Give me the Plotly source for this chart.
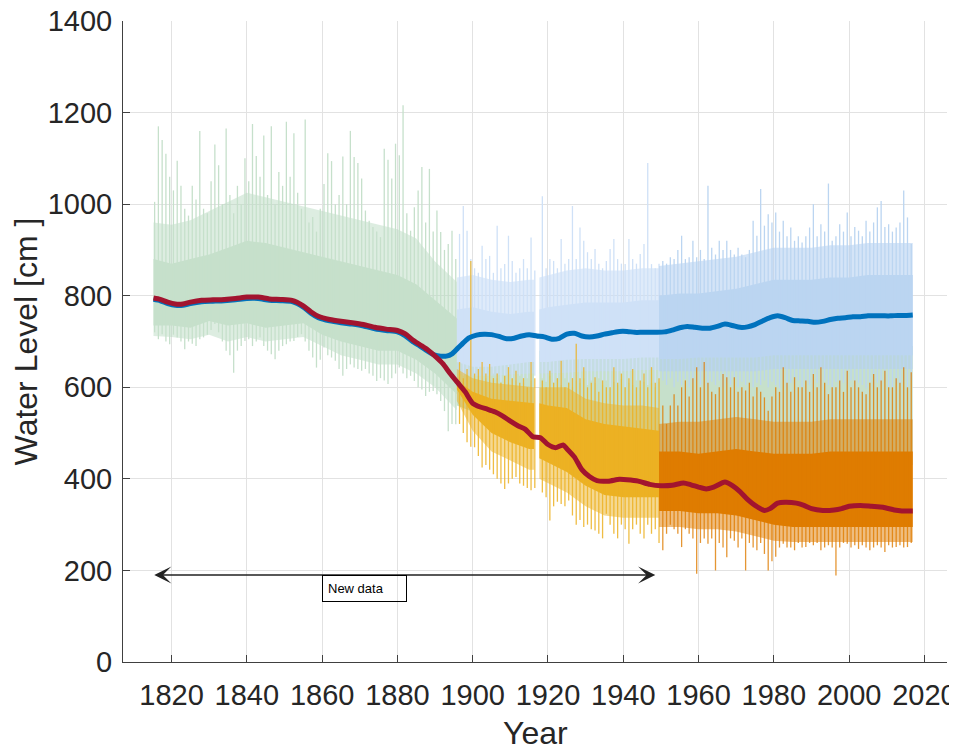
import plotly.graph_objects as go

# ---------------- data ----------------
# Green series (1815-1895): yearly peak / trough
G_YEARS = list(range(1815, 1896))
G_MAX = [1005, 1170, 1140, 1110, 1060, 1030, 1095, 1040, 990, 975,
         1040, 1010, 1160, 990, 980, 1050, 1130, 1085, 1000, 1165,
         1020, 980, 1040, 1000, 1100, 1050, 1175, 1105, 1060, 1150,
         1020, 1170, 1000, 1070, 1040, 1180, 1060, 1155, 1025, 990,
         1185, 960, 972, 940, 990, 1044, 1111, 1094, 1000, 1020,
         1104, 1000, 1160, 1103, 1090, 1056, 986, 964, 950, 940,
         928, 1121, 1097, 1056, 1132, 1107, 1216, 980, 942, 993,
         1030, 1081, 960, 1077, 940, 986, 939, 900, 913, 942, 880]
G_MIN = [720, 705, 716, 700, 694, 715, 709, 700, 683, 700,
         695, 690, 705, 709, 715, 725, 738, 720, 700, 680,
         670, 632, 680, 690, 701, 705, 690, 700, 709, 690,
         680, 672, 661, 680, 690, 694, 700, 701, 710, 716,
         700, 680, 665, 643, 660, 687, 670, 665, 658, 640,
         625, 640, 650, 643, 640, 636, 640, 630, 625, 614,
         620, 615, 607, 620, 630, 643, 630, 620, 625, 614,
         600, 595, 581, 590, 592, 585, 570, 548, 504, 520, 519]
# Green dense core and looser outer envelope
G_CORE_YR = [1815.2, 1820, 1825, 1830, 1835, 1840, 1845, 1850, 1855, 1860,
             1865, 1870, 1875, 1880, 1885, 1890, 1895.8]
G_CORE_LO = [735, 735, 730, 745, 735, 740, 730, 735, 740, 715,
             700, 690, 680, 680, 660, 630, 585]
G_CORE_HI = [880, 870, 880, 890, 905, 920, 915, 905, 895, 885,
             875, 865, 855, 845, 825, 790, 750]
G_OUT_LO = [712, 710, 705, 715, 700, 710, 700, 705, 710, 690,
            670, 660, 650, 650, 630, 600, 550]
G_OUT_HI = [960, 955, 965, 985, 1005, 1025, 1015, 1005, 995, 985,
            975, 965, 955, 945, 925, 875, 830]
G2A_YR = [1895.8, 1905, 1916.3]
G2A_LO = [560, 530, 510]
G2A_HI = [700, 690, 680]
G2B_YR = [1917.7, 1925, 1935, 1945, 1955, 1965, 1975, 1985, 1995, 2005, 2016.9]
G2B_LO = [500, 480, 460, 450, 440, 435, 430, 430, 430, 430, 430]
G2B_HI = [680, 680, 680, 680, 680, 685, 690, 690, 690, 690, 690]

# Blue series (1896-2016)
B_YEARS = list(range(1896, 2017))
B_MAX = [935, 996, 942, 880, 860, 850, 909, 880, 887, 850,
         953, 860, 869, 931, 876, 850, 860, 880, 860, 927,
         855, None, 1017, 860, 880, 876, 860, 924, 870, 880,
         996, 880, 949, 920, 895, 880, 902, 870, 860, 876,
         902, 924, 880, 870, 869, 924, 880, 870, 891, 913,
         1090, 869, 860, 870,
         876, 870, 884, 880, 900, 931, 880, 884, 920, 884,
         900, 880, 1040, 905, 890, 920, 900, 920, 900, 890,
         905, 890, 884, 900, 964, 931, 1033, 953,
         978, 960, 982, 940, 964, 930, 949, 920, 930, 916,
         930, 949, 1000, 930, 956, 940, 1045, 920, 930, 956,
         940, 982, 930, 950, 942, 930, 964, 940, 960, 993,
         1007, 950, 956, 940, 949, 960, 1030, 971, 913]
B_MIN = [640, 625, 630, 615, 620, 625, 610, 620, 615, 630,
         620, 612, 625, 610, 620, 615, 625, 610, 620, 615,
         625, None, 620, 612, 625, 610, 618, 605, 620, 612,
         600, 615, 610, 620, 605, 615, 610, 620, 605, 615,
         600, 612, 605, 618, 600, 610, 605, 615, 600, 612,
         605, 610, 600, 612,
         615, 605, 620, 600, 612, 605, 618, 600, 610, 615,
         605, 620, 600, 612, 605, 615, 600, 610, 605, 618,
         600, 612, 605, 615, 600, 610, 605, 615,
         600, 612, 605, 598, 615, 600, 610, 605, 615, 600,
         612, 605, 598, 610, 600, 615, 605, 600, 612, 598,
         610, 605, 615, 600, 610, 605, 598, 612, 600, 610,
         605, 615, 600, 598, 610, 605, 612, 600, 615]
B_CORE1_YR = [1895.8, 1900, 1905, 1910, 1915, 1916.3]
B_CORE1_LO = [655, 645, 645, 650, 655, 655]
B_CORE1_HI = [770, 775, 765, 760, 765, 765]
B_OUT1_LO = [630, 625, 625, 628, 630, 630]
B_OUT1_HI = [840, 845, 835, 830, 835, 835]
B_CORE2_YR = [1917.7, 1920, 1925, 1930, 1935, 1940, 1945, 1949.5]
B_CORE2_LO = [655, 655, 660, 662, 662, 662, 665, 665]
B_CORE2_HI = [770, 775, 780, 785, 785, 785, 790, 790]
B_OUT2_LO = [630, 630, 632, 635, 635, 635, 638, 638]
B_OUT2_HI = [840, 845, 855, 860, 855, 855, 860, 860]
B_CORE3_YR = [1949.5, 1955, 1960, 1965, 1970, 1975, 1980, 1985, 1990,
              1995, 2000, 2005, 2010, 2016.9]
B_CORE3_LO = [662, 662, 665, 665, 665, 665, 670, 670, 670, 670, 670, 670, 670, 670]
B_CORE3_HI = [800, 805, 805, 810, 815, 825, 835, 835, 835, 840, 840, 845, 845, 845]
B_OUT3_LO = [635, 635, 635, 635, 635, 635, 640, 640, 640, 640, 640, 640, 640, 640]
B_OUT3_HI = [865, 870, 875, 880, 885, 895, 905, 905, 905, 910, 910, 915, 915, 915]

# Orange series (1896-2016)
O_YEARS = list(range(1896, 2017))
O_MAX = [655, 620, 640, 876, 630, 640, 655, 630, 651, 620,
         630, 610, 625, 644, 620, 636, 610, 620, 600, 655,
         620, None, 615, 600, 636, 610, 620, 658, 600, 610,
         620, 695, 620, 644, 600, 610, 622, 590, 615, 600,
         600, 644, 610, 630, 600, 620, 640, 600, 615, 630,
         600, 644, 610, 620,
         560, 520, 560, 585, 560, 600, 615, 580, 620, 644,
         600, 655, 610, 590, 585, 600, 629, 622, 600, 622,
         590, 600, 593, 610, 580, 600, 590, 578,
         549, 580, 600, 590, 644, 610, 590, 622, 600, 600,
         615, 590, 629, 600, 644, 610, 585, 600, 600, 615,
         590, 636, 600, 615, 600, 590, 585, 610, 629, 600,
         615, 636, 600, 600, 620, 610, 644, 600, 633]
O_MIN = [520, 500, 480, 470, 469, 450, 425, 430, 420, 410,
         400, 390, 378, 390, 400, 404, 390, 385, 380, 375,
         380, None, 370, 360, 309, 340, 350, 345, 340, 353,
         320, 300, 310, 295, 300, 290, 287, 280, 270, 324,
         300, 280, 270, 300, 290, 258, 290, 300, 280, 270,
         300, 280, 290, 260,
         244, 280, 300, 290, 280, 251, 290, 280, 270, 193,
         260, 270, 258, 270, 200, 260, 250, 229, 270, 265,
         250, 270, 200, 260, 250, 244, 260, 236,
         200, 220, 230, 250, 258, 250, 250, 244, 260, 250,
         251, 260, 255, 260, 244, 250, 255, 250, 189, 250,
         260, 258, 250, 255, 247, 255, 250, 244, 250, 255,
         250, 240, 255, 250, 251, 255, 250, 251, 260]
O_CORE1_YR = [1895.8, 1900, 1905, 1910, 1915, 1916.3]
O_CORE1_LO = [595, 540, 500, 480, 465, 465]
O_CORE1_HI = [615, 590, 575, 570, 565, 565]
O_OUT1_LO = [570, 505, 460, 440, 420, 420]
O_OUT1_HI = [640, 620, 610, 605, 600, 600]
O_CORE2_YR = [1917.7, 1920, 1925, 1930, 1935, 1940, 1945, 1949.5]
O_CORE2_LO = [445, 435, 415, 385, 365, 360, 360, 360]
O_CORE2_HI = [565, 560, 555, 530, 520, 515, 510, 505]
O_OUT2_LO = [400, 390, 370, 340, 320, 315, 315, 315]
O_OUT2_HI = [600, 600, 600, 575, 565, 560, 560, 555]
O_CORE3_YR = [1949.5, 1955, 1960, 1965, 1970, 1975, 1980, 1985, 1990,
              1995, 2000, 2005, 2010, 2016.9]
O_CORE3_LO = [330, 330, 325, 325, 320, 310, 300, 295, 295, 295, 295, 295, 295, 295]
O_CORE3_HI = [460, 460, 455, 460, 465, 460, 455, 455, 455, 460, 460, 460, 460, 460]
O_OUT3_LO = [295, 295, 290, 290, 285, 275, 265, 262, 262, 262, 262, 262, 262, 262]
O_OUT3_HI = [520, 525, 525, 530, 535, 530, 525, 525, 525, 530, 530, 530, 530, 530]

# Smoothed trends
R_YR = [1815.2, 1817, 1819, 1821, 1823, 1825, 1828, 1831, 1834, 1837, 1840, 1843,
        1846, 1849, 1852, 1855, 1857, 1859, 1862, 1865, 1868, 1871, 1874, 1877,
        1880, 1882, 1884, 1886, 1888, 1890, 1892, 1894, 1896, 1898, 1900, 1902,
        1904, 1906, 1908, 1910, 1912, 1914, 1916, 1918, 1920, 1922, 1924, 1925,
        1927, 1929, 1931, 1933, 1936, 1939, 1941, 1944, 1947, 1950, 1953, 1956,
        1958, 1960, 1962, 1964, 1967, 1969, 1971, 1973, 1975, 1977.5, 1979, 1981,
        1983, 1986, 1988, 1990, 1993, 1996, 1998, 2000, 2003, 2006, 2009, 2012,
        2014, 2016.9]
R_VAL = [795, 792, 786, 782, 782, 786, 790, 791, 792, 794, 797, 797,
         793, 792, 790, 778, 765, 755, 748, 744, 741, 737, 731, 727,
         724, 717, 704, 693, 682, 668, 652, 630, 610, 590, 565, 557,
         552, 546, 537, 526, 516, 508, 492, 490, 475, 468, 474, 466,
         448, 420, 405, 396, 395, 399, 398, 395, 388, 385, 386, 391,
         387, 382, 378, 382, 393, 385, 372, 355, 342, 331, 335, 347,
         349, 347, 342, 335, 331, 332, 335, 340, 342, 340, 338, 332,
         330, 330]
BL_YR = [1815.2, 1817, 1819, 1821, 1823, 1825, 1828, 1831, 1834, 1837, 1840, 1843,
         1846, 1849, 1852, 1855, 1857, 1859, 1862, 1865, 1868, 1871, 1874, 1877,
         1880, 1882, 1884, 1886, 1888, 1890, 1891.5, 1893, 1894.5, 1896, 1897.5,
         1899, 1901, 1903, 1905, 1907, 1909, 1911, 1913, 1915, 1917, 1919, 1921,
         1923, 1925, 1927, 1929, 1931, 1933, 1935, 1937, 1939, 1941, 1943, 1945,
         1947, 1949, 1951, 1953, 1955, 1957, 1959, 1961, 1963, 1965, 1967, 1969,
         1971, 1973, 1975, 1977, 1979, 1981, 1983, 1985, 1987, 1989, 1991, 1993,
         1995, 1997, 1999, 2001, 2003, 2005, 2007, 2009, 2011, 2013, 2015, 2016.9]
BL_VAL = [792, 789, 783, 779, 779, 783, 787, 788, 789, 791, 794, 794,
          790, 789, 787, 775, 762, 752, 745, 741, 738, 734, 728, 724,
          721, 713, 700, 690, 679, 670, 668, 668, 673, 685, 697,
          708, 714, 716, 715, 711, 706, 707, 712, 715, 712, 710, 705,
          707, 716, 718, 712, 710, 712, 716, 719, 722, 722, 720, 720,
          720, 720, 721, 725, 730, 733, 731, 729, 729, 733, 738, 735,
          731, 732, 737, 745, 752, 756, 752, 746, 745, 744, 742, 744,
          748, 751, 752, 754, 754, 756, 756, 756, 756, 757, 757, 758]

X_TICKS = list(range(1820, 2021, 20))
Y_TICKS = list(range(0, 1401, 200))
ARROW_Y = 190
ARROW_FROM, ARROW_TO = 1815, 1948.5
NOTE_TEXT = "New data"
NOTE_X = 1860
X_TITLE = "Year"
Y_TITLE = "Water Level [cm ]"

# ---------------- helpers ----------------
fig = go.Figure()


def band(xs, lo, hi, color):
    fig.add_trace(go.Scatter(x=list(xs) + list(xs)[::-1], y=list(hi) + list(lo)[::-1],
                             fill="toself", fillcolor=color, mode="lines",
                             line=dict(width=0, color=color), hoverinfo="skip",
                             showlegend=False))


def spikes(years, mx, mn, color, width=1.3, lo_year=None, hi_year=None):
    xs, ys = [], []
    for yr, a, b in zip(years, mx, mn):
        if a is None or b is None:
            continue
        if lo_year is not None and yr < lo_year:
            continue
        if hi_year is not None and yr > hi_year:
            continue
        xs += [yr + 0.5, yr + 0.5, None]
        ys += [b, a, None]
    fig.add_trace(go.Scatter(x=xs, y=ys, mode="lines",
                             line=dict(width=width, color=color),
                             hoverinfo="skip", showlegend=False))


GREEN = "#c6e0cb"
GREEN_S = "rgba(180,214,188,0.45)"
BLUE1 = "#cfe1f7"
BLUE1_S = "rgba(197,219,246,0.55)"
BLUE2 = "#bbd5f1"
BLUE2_S = "rgba(176,206,240,0.55)"
YEL = "#ecb123"
YEL_S = "rgba(236,177,35,0.5)"
ORG = "#df7c00"
ORG_S = "rgba(223,124,0,0.5)"

band(G_CORE_YR, G_OUT_LO, G_OUT_HI, GREEN_S)
band(G_CORE_YR, G_CORE_LO, G_CORE_HI, GREEN)
band(G2A_YR, G2A_LO, G2A_HI, GREEN)
band(G2B_YR, G2B_LO, G2B_HI, GREEN)
spikes(G_YEARS, G_MAX, G_MIN, GREEN)

band(B_CORE1_YR, B_OUT1_LO, B_OUT1_HI, BLUE1_S)
band(B_CORE1_YR, B_CORE1_LO, B_CORE1_HI, BLUE1)
band(B_CORE2_YR, B_OUT2_LO, B_OUT2_HI, BLUE1_S)
band(B_CORE2_YR, B_CORE2_LO, B_CORE2_HI, BLUE1)
spikes(B_YEARS, B_MAX, B_MIN, BLUE1, hi_year=1949)
band(B_CORE3_YR, B_OUT3_LO, B_OUT3_HI, BLUE2_S)
band(B_CORE3_YR, B_CORE3_LO, B_CORE3_HI, BLUE2)
spikes(B_YEARS, B_MAX, B_MIN, BLUE2, lo_year=1950)

band(O_CORE1_YR, O_OUT1_LO, O_OUT1_HI, YEL_S)
band(O_CORE1_YR, O_CORE1_LO, O_CORE1_HI, YEL)
band(O_CORE2_YR, O_OUT2_LO, O_OUT2_HI, YEL_S)
band(O_CORE2_YR, O_CORE2_LO, O_CORE2_HI, YEL)
spikes(O_YEARS, O_MAX, O_MIN, "rgba(236,177,35,0.85)", hi_year=1949)
band(O_CORE3_YR, O_OUT3_LO, O_OUT3_HI, ORG_S)
band(O_CORE3_YR, O_CORE3_LO, O_CORE3_HI, ORG)
spikes(O_YEARS, O_MAX, O_MIN, "rgba(223,124,0,0.8)", lo_year=1950)

fig.add_trace(go.Scatter(x=BL_YR, y=BL_VAL, mode="lines",
                         line=dict(color="#0072bd", width=5, shape="spline", smoothing=0.6),
                         hoverinfo="skip", showlegend=False))
fig.add_trace(go.Scatter(x=R_YR, y=R_VAL, mode="lines",
                         line=dict(color="#a2142f", width=5, shape="spline", smoothing=0.6),
                         hoverinfo="skip", showlegend=False))

fig.add_annotation(x=ARROW_TO, y=ARROW_Y, ax=ARROW_FROM, ay=ARROW_Y,
                   xref="x", yref="y", axref="x", ayref="y", text="",
                   showarrow=True, arrowhead=3, arrowside="end+start",
                   arrowsize=2.2, arrowwidth=1.3, arrowcolor="#222222")
fig.add_annotation(x=NOTE_X, y=ARROW_Y, xref="x", yref="y", xanchor="left", yanchor="top",
                   text=NOTE_TEXT, showarrow=False, align="left", width=73,
                   font=dict(family="Liberation Sans, Arial", size=13, color="#000000"),
                   bordercolor="#000000", borderwidth=1, borderpad=5, bgcolor="rgba(255,255,255,0)")

TXT = "#262626"
# x-axis title placed as an annotation so it can sit as low as in the reference
fig.add_annotation(x=0.5, y=-0.079, xref="paper", yref="paper", xanchor="center", yanchor="top",
                   text=X_TITLE, showarrow=False, font=dict(size=32, color=TXT))

# The page body adds an 8 px margin, so the figure is sized to fit the window.
fig.update_layout(
    width=949, height=737,
    margin=dict(l=115, r=10, t=13, b=83),
    paper_bgcolor="white", plot_bgcolor="white",
    font=dict(family="Liberation Sans, Arial", color=TXT),
    showlegend=False,
)
fig.update_xaxes(range=[1807.1, 2026], tickvals=X_TICKS, ticktext=[str(v) for v in X_TICKS],
                 automargin=False, ticklabeloverflow="allow",
                 showgrid=True, gridcolor="#e2e2e2", gridwidth=1, zeroline=False,
                 showline=True, linecolor="#404040", linewidth=1, mirror=False,
                 ticks="inside", ticklen=7, tickcolor="#404040", tickwidth=1,
                 tickfont=dict(size=29, color=TXT), ticklabelstandoff=7)
fig.update_yaxes(range=[0, 1400], tickvals=Y_TICKS, ticktext=[str(v) for v in Y_TICKS],
                 automargin=False, ticklabeloverflow="allow",
                 showgrid=True, gridcolor="#e2e2e2", gridwidth=1, zeroline=False,
                 showline=True, linecolor="#404040", linewidth=1, mirror=False,
                 ticks="inside", ticklen=7, tickcolor="#404040", tickwidth=1,
                 tickfont=dict(size=29, color=TXT), ticklabelstandoff=4,
                 title=dict(text=Y_TITLE, font=dict(size=32, color=TXT), standoff=4))

fig.write_html("out.html")
